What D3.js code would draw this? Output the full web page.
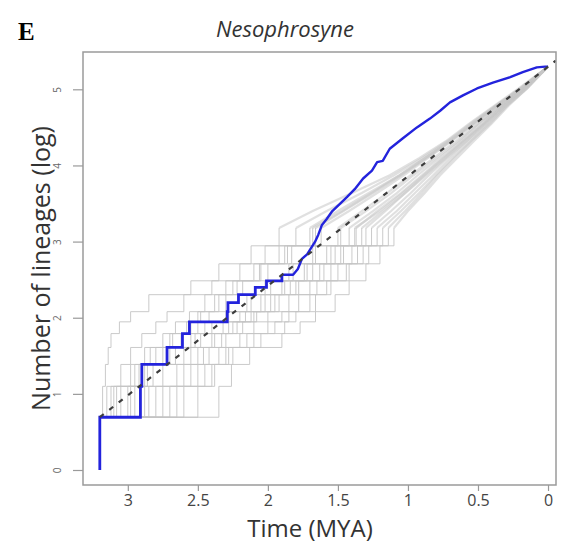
<!DOCTYPE html>
<html>
<head>
<meta charset="utf-8">
<script src="https://cdn.jsdelivr.net/npm/d3@7"></script>
<style>
  body { margin: 0; background: #fff; }
  svg { display: block; }
</style>
</head>
<body>
<svg id="chart" width="566" height="548"></svg>
<script>
// tick values
const xTicks = [3, 2.5, 2, 1.5, 1, 0.5, 0]
const yTicks = [0, 1, 2, 3, 4, 5]

// simulated LTT curves: time (MYA) at which each lineage count is reached
const greyCounts = [2, 3, 4, 5, 6, 7, 8, 10, 12, 15, 19, 24, 30, 38, 48, 60, 75, 95, 120, 150, 200]
const greyTimes = [
  [3.2, 3.18, 3.16, 3.14, 3.12, 3.06, 2.98, 2.85, 2.55, 2.35, 2.12, 1.92, 1.68, 1.40, 1.13, 0.92, 0.73, 0.56, 0.38, 0.21, 0],
  [3.2, 2.35, 2.26, 2.13, 1.90, 1.77, 1.66, 1.52, 1.42, 1.30, 1.20, 1.10, 1.00, 0.88, 0.77, 0.65, 0.53, 0.40, 0.28, 0.15, 0],
  [3.2, 3.15, 3.05, 2.98, 2.90, 2.80, 2.72, 2.60, 2.40, 2.20, 2.02, 1.80, 1.58, 1.33, 1.10, 0.90, 0.72, 0.55, 0.37, 0.20, 0],
  [3.2, 3.10, 2.95, 2.80, 2.62, 2.50, 2.42, 2.30, 2.18, 2.00, 1.83, 1.62, 1.42, 1.22, 1.03, 0.86, 0.69, 0.52, 0.35, 0.19, 0],
  [3.2, 3.00, 2.90, 2.70, 2.55, 2.45, 2.30, 2.15, 2.02, 1.85, 1.68, 1.50, 1.33, 1.15, 0.98, 0.82, 0.66, 0.50, 0.34, 0.18, 0],
  [3.2, 2.95, 2.82, 2.60, 2.48, 2.32, 2.20, 2.05, 1.90, 1.74, 1.58, 1.42, 1.25, 1.08, 0.93, 0.78, 0.63, 0.48, 0.33, 0.18, 0],
  [3.2, 2.85, 2.65, 2.50, 2.38, 2.25, 2.12, 1.98, 1.84, 1.68, 1.52, 1.37, 1.22, 1.05, 0.90, 0.76, 0.61, 0.46, 0.32, 0.17, 0],
  [3.2, 2.80, 2.55, 2.42, 2.30, 2.18, 2.08, 1.92, 1.78, 1.60, 1.46, 1.30, 1.16, 1.02, 0.88, 0.74, 0.60, 0.45, 0.31, 0.17, 0],
  [3.2, 2.70, 2.50, 2.30, 2.20, 2.10, 2.00, 1.85, 1.70, 1.55, 1.40, 1.26, 1.12, 0.98, 0.85, 0.72, 0.58, 0.44, 0.30, 0.16, 0],
  [3.2, 2.60, 2.45, 2.35, 2.15, 2.00, 1.90, 1.78, 1.65, 1.50, 1.36, 1.22, 1.08, 0.95, 0.82, 0.70, 0.57, 0.43, 0.30, 0.16, 0],
  [3.2, 2.50, 2.40, 2.25, 2.10, 1.95, 1.85, 1.70, 1.58, 1.44, 1.32, 1.18, 1.05, 0.92, 0.80, 0.68, 0.55, 0.42, 0.29, 0.15, 0],
  [3.2, 3.12, 2.98, 2.88, 2.75, 2.66, 2.56, 2.45, 2.30, 2.10, 1.92, 1.70, 1.50, 1.28, 1.06, 0.88, 0.70, 0.53, 0.36, 0.19, 0],
  [3.2, 3.08, 2.88, 2.75, 2.68, 2.55, 2.48, 2.35, 2.22, 2.05, 1.86, 1.66, 1.46, 1.25, 1.05, 0.87, 0.70, 0.53, 0.36, 0.19, 0],
  [3.2, 2.98, 2.86, 2.66, 2.52, 2.40, 2.28, 2.12, 1.98, 1.82, 1.66, 1.48, 1.30, 1.12, 0.96, 0.80, 0.64, 0.49, 0.33, 0.18, 0],
  [3.2, 2.88, 2.75, 2.55, 2.40, 2.28, 2.16, 2.02, 1.88, 1.72, 1.55, 1.38, 1.20, 1.04, 0.89, 0.75, 0.61, 0.46, 0.32, 0.17, 0],
  [3.2, 2.75, 2.60, 2.46, 2.33, 2.22, 2.10, 1.95, 1.80, 1.63, 1.48, 1.33, 1.18, 1.02, 0.87, 0.73, 0.59, 0.45, 0.31, 0.17, 0],
  [3.2, 3.05, 2.92, 2.84, 2.70, 2.58, 2.50, 2.38, 2.25, 2.06, 1.88, 1.68, 1.47, 1.26, 1.06, 0.88, 0.71, 0.54, 0.37, 0.20, 0],
  [3.2, 2.65, 2.38, 2.28, 2.05, 1.88, 1.80, 1.66, 1.55, 1.42, 1.28, 1.14, 1.02, 0.90, 0.79, 0.67, 0.55, 0.41, 0.29, 0.15, 0]
]

// observed LTT (time, lineages): early part as steps, later part traced
const blueSteps = [[3.2, 1], [3.2, 2], [2.91, 3], [2.90, 4], [2.72, 5], [2.61, 6], [2.56, 7], [2.29, 8], [2.285, 9],
  [2.21, 10], [2.09, 11], [2.01, 12], [1.90, 13]]
const blueTrace = [[1.90, 13], [1.82, 13], [1.786, 14], [1.757, 16], [1.72, 17], [1.70, 18], [1.664, 20], [1.64, 22],
  [1.614, 25], [1.58, 27], [1.54, 30], [1.486, 33], [1.436, 36], [1.38, 40], [1.32, 46], [1.257, 51], [1.22, 57],
  [1.18, 58], [1.13, 68], [1.036, 78], [0.936, 90], [0.843, 101], [0.77, 112], [0.70, 125], [0.607, 137],
  [0.507, 150], [0.393, 162], [0.27, 174], [0.18, 186], [0.08, 198], [0.02, 200], [0, 200]]

// expected (pure birth) line endpoints (time, lineages)
const expectedLine = [[3.2, 2], [-0.055, 216]]

const svg = d3.select('#chart')
const plotLeft = 83, plotRight = 556, plotTop = 52, plotBottom = 485

const x = d3.scaleLinear().domain([3.32, -0.057]).range([plotLeft, plotRight])
const y = d3.scaleLinear().domain([-0.197, 5.49]).range([plotBottom, plotTop])

const lineStep = d3.line().x(d => x(d[0])).y(d => y(Math.log(d[1]))).curve(d3.curveStepAfter)
const lineLin = d3.line().x(d => x(d[0])).y(d => y(Math.log(d[1])))

svg.append('clipPath').attr('id', 'clip')
  .append('rect').attr('x', plotLeft).attr('y', plotTop)
  .attr('width', plotRight - plotLeft).attr('height', plotBottom - plotTop)

const plot = svg.append('g').attr('clip-path', 'url(#clip)')

// grey simulated curves: staircases low down, traced further up
greyTimes.forEach(times => {
  var pts = times.map((t, i) => [t, greyCounts[i]])
  plot.append('path')
    .attr('d', lineStep(pts.slice(0, 12)))
    .attr('fill', 'none').attr('stroke', '#c4c4c4').attr('stroke-width', 1).attr('opacity', 0.9)
  plot.append('path')
    .attr('d', lineLin(pts.slice(11)))
    .attr('fill', 'none').attr('stroke', '#c6c6c6').attr('stroke-width', 2.2).attr('opacity', 0.55)
})

// blue observed
plot.append('path')
  .attr('d', lineStep(blueSteps))
  .attr('fill', 'none').attr('stroke', '#2323dc').attr('stroke-width', 2.8)
plot.append('path')
  .attr('d', lineLin(blueTrace))
  .attr('fill', 'none').attr('stroke', '#2323dc').attr('stroke-width', 2.4)
  .attr('stroke-linejoin', 'round')

// dashed expectation
plot.append('path')
  .attr('d', lineLin(expectedLine))
  .attr('fill', 'none').attr('stroke', '#3d3d3d').attr('stroke-width', 2.2)
  .attr('stroke-dasharray', '5,7')

// box
svg.append('rect')
  .attr('x', plotLeft).attr('y', plotTop)
  .attr('width', plotRight - plotLeft).attr('height', plotBottom - plotTop)
  .attr('fill', 'none').attr('stroke', '#9a9a9a').attr('stroke-width', 1.5)

// x axis
const xAxis = svg.append('g')
  .attr('transform', 'translate(0,' + plotBottom + ')')
  .call(d3.axisBottom(x).tickValues(xTicks).tickSize(6).tickFormat(d3.format('')))
xAxis.select('.domain').remove()
xAxis.selectAll('line').attr('stroke', '#9a9a9a').attr('stroke-width', 1.2)
xAxis.selectAll('text')
  .attr('y', 10)
  .attr('font-family', 'Open Sans').attr('font-size', 16).attr('fill', '#444')

// y axis
const yAxis = svg.append('g')
  .attr('transform', 'translate(' + plotLeft + ',0)')
  .call(d3.axisLeft(y).tickValues(yTicks).tickSize(10).tickFormat(d3.format('d')))
yAxis.select('.domain').remove()
yAxis.selectAll('line').attr('stroke', '#9a9a9a').attr('stroke-width', 1.2)
yAxis.selectAll('text')
  .attr('x', null).attr('dy', null)
  .attr('transform', 'translate(-22,0) rotate(-90)')
  .attr('text-anchor', 'middle')
  .attr('font-family', 'Open Sans').attr('font-size', 10).attr('fill', '#666')

// titles
svg.append('text')
  .attr('x', 310).attr('y', 537)
  .attr('text-anchor', 'middle')
  .attr('font-family', 'Open Sans').attr('font-size', 24).attr('fill', '#333')
  .text('Time (MYA)')

svg.append('text')
  .attr('transform', 'translate(50,' + ((plotTop + plotBottom) / 2) + ') rotate(-90)')
  .attr('text-anchor', 'middle')
  .attr('font-family', 'Open Sans').attr('font-size', 25).attr('fill', '#333')
  .text('Number of lineages (log)')

svg.append('text')
  .attr('x', 285).attr('y', 37)
  .attr('text-anchor', 'middle')
  .attr('font-family', 'Open Sans').attr('font-style', 'italic').attr('font-size', 22).attr('fill', '#333')
  .text('Nesophrosyne')

svg.append('text')
  .attr('x', 18).attr('y', 40)
  .attr('font-family', 'Liberation Serif').attr('font-weight', 'bold').attr('font-size', 25).attr('fill', '#000')
  .text('E')
</script>
</body>
</html>
